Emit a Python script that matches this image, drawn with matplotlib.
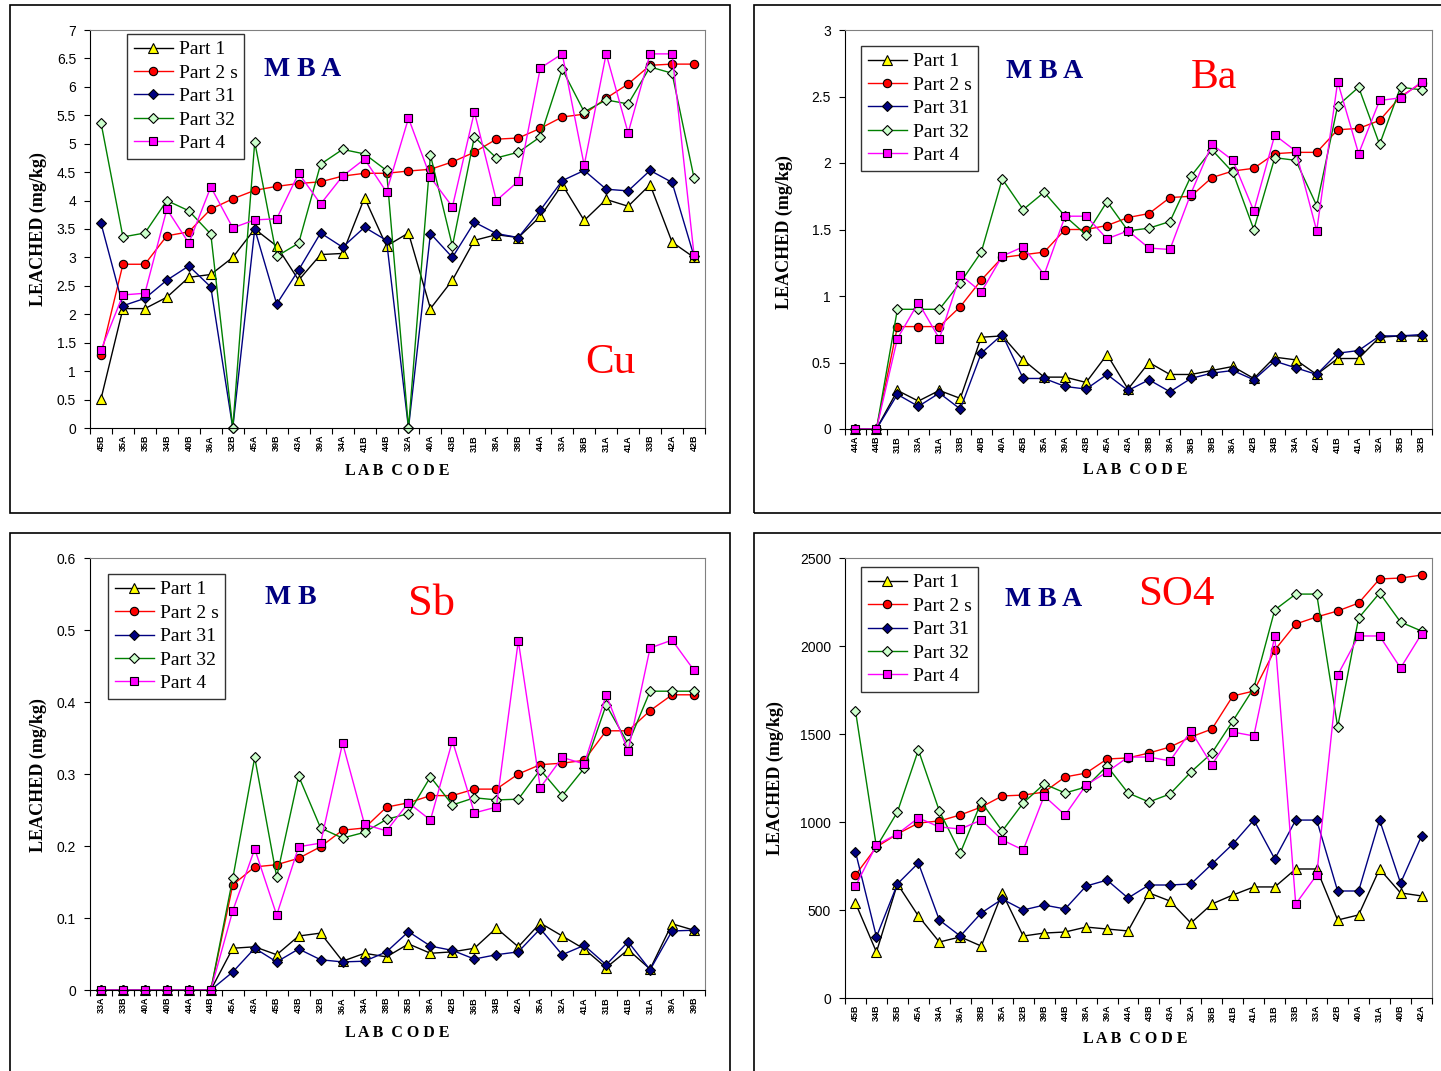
import numpy as np
import matplotlib
matplotlib.use("Agg")
import matplotlib.pyplot as plt
from matplotlib.patches import Rectangle
from matplotlib.ticker import FixedLocator, FuncFormatter

# ── DATA ──
series_names = ['Part 1', 'Part 2 s', 'Part 31', 'Part 32', 'Part 4']

cu_labs = ['45B', '35A', '35B', '34B', '40B', '36A', '32B', '45A', '39B', '43A', '39A', '34A', '41B', '44B',
           '32A', '40A', '43B', '31B', '38A', '38B', '44A', '33A', '36B', '31A', '41A', '33B', '42A', '42B']
cu_p1 = [0.51, 2.1, 2.1, 2.3, 2.65, 2.7, 3.0, 3.5, 3.2, 2.6, 3.05, 3.07, 4.05, 3.2,
         3.43, 2.1, 2.6, 3.3, 3.4, 3.35, 3.72, 4.28, 3.65, 4.02, 3.9, 4.28, 3.27, 3.0]
cu_p2 = [1.28, 2.88, 2.88, 3.38, 3.45, 3.85, 4.03, 4.18, 4.25, 4.3, 4.33, 4.43, 4.48, 4.48,
         4.52, 4.55, 4.68, 4.85, 5.08, 5.1, 5.27, 5.47, 5.52, 5.8, 6.05, 6.38, 6.4, 6.4]
cu_p31 = [3.6, 2.15, 2.28, 2.6, 2.85, 2.48, 0.0, 3.5, 2.18, 2.78, 3.43, 3.18, 3.53, 3.3,
          0.0, 3.42, 3.0, 3.62, 3.42, 3.35, 3.83, 4.35, 4.53, 4.2, 4.17, 4.53, 4.32, 3.02]
cu_p32 = [5.37, 3.36, 3.43, 4.0, 3.82, 3.41, 0.0, 5.03, 3.02, 3.25, 4.64, 4.9, 4.82, 4.53,
          0.0, 4.8, 3.2, 5.12, 4.75, 4.85, 5.12, 6.31, 5.56, 5.77, 5.7, 6.35, 6.24, 4.4]
cu_p4 = [1.37, 2.34, 2.37, 3.85, 3.25, 4.24, 3.52, 3.66, 3.68, 4.48, 3.94, 4.43, 4.73, 4.15,
         5.45, 4.41, 3.89, 5.56, 4.0, 4.34, 6.33, 6.58, 4.62, 6.58, 5.19, 6.58, 6.58, 3.05]

ba_labs = ['44A', '44B', '31B', '33A', '31A', '33B', '40B', '40A', '45B', '35A', '39A', '43B', '45A', '43A',
           '38B', '38A', '36B', '39B', '36A', '42B', '34B', '34A', '42A', '41B', '41A', '32A', '35B', '32B']
ba_p1 = [0, 0, 0.29, 0.21, 0.29, 0.23, 0.69, 0.7, 0.52, 0.39, 0.39, 0.35, 0.56, 0.3,
         0.5, 0.41, 0.41, 0.44, 0.47, 0.38, 0.54, 0.52, 0.41, 0.53, 0.53, 0.69, 0.7, 0.7]
ba_p2 = [0, 0, 0.77, 0.77, 0.77, 0.92, 1.12, 1.29, 1.31, 1.33, 1.5, 1.5, 1.53, 1.59,
         1.62, 1.74, 1.75, 1.89, 1.94, 1.96, 2.07, 2.08, 2.08, 2.25, 2.26, 2.32, 2.5, 2.6]
ba_p31 = [0, 0, 0.26, 0.17, 0.27, 0.15, 0.57, 0.71, 0.38, 0.38, 0.32, 0.3, 0.41, 0.29,
          0.37, 0.28, 0.38, 0.42, 0.44, 0.37, 0.51, 0.46, 0.41, 0.57, 0.59, 0.7, 0.7, 0.71]
ba_p32 = [0, 0, 0.9, 0.9, 0.9, 1.1, 1.33, 1.88, 1.65, 1.78, 1.6, 1.46, 1.71, 1.49,
          1.51, 1.56, 1.9, 2.1, 1.93, 1.5, 2.04, 2.02, 1.68, 2.43, 2.57, 2.14, 2.57, 2.55]
ba_p4 = [0, 0, 0.68, 0.95, 0.68, 1.16, 1.03, 1.3, 1.37, 1.16, 1.6, 1.6, 1.43, 1.49,
         1.36, 1.35, 1.77, 2.14, 2.02, 1.64, 2.21, 2.09, 1.49, 2.61, 2.07, 2.47, 2.49, 2.61]

sb_labs = ['33A', '33B', '40A', '40B', '44A', '44B', '45A', '43A', '45B', '43B', '32B', '36A', '34A', '38B',
           '35B', '38A', '42B', '36B', '34B', '42A', '35A', '32A', '41A', '31B', '41B', '31A', '39A', '39B']
sb_p1 = [0, 0, 0, 0, 0, 0, 0.058, 0.06, 0.049, 0.075, 0.079, 0.04, 0.051, 0.046,
         0.064, 0.051, 0.053, 0.058, 0.086, 0.06, 0.093, 0.075, 0.057, 0.031, 0.056, 0.029, 0.092, 0.083]
sb_p2 = [0, 0, 0, 0, 0, 0, 0.146, 0.171, 0.174, 0.183, 0.199, 0.222, 0.225, 0.254,
         0.26, 0.27, 0.27, 0.279, 0.279, 0.3, 0.313, 0.315, 0.319, 0.36, 0.36, 0.388, 0.41, 0.41]
sb_p31 = [0, 0, 0, 0, 0, 0, 0.025, 0.058, 0.039, 0.057, 0.042, 0.039, 0.04, 0.053,
          0.081, 0.061, 0.055, 0.043, 0.049, 0.053, 0.085, 0.049, 0.062, 0.035, 0.067, 0.028, 0.082, 0.083]
sb_p32 = [0, 0, 0, 0, 0, 0, 0.155, 0.323, 0.157, 0.297, 0.225, 0.211, 0.219, 0.237,
          0.245, 0.296, 0.257, 0.267, 0.264, 0.265, 0.306, 0.27, 0.308, 0.396, 0.342, 0.415, 0.415, 0.415]
sb_p4 = [0, 0, 0, 0, 0, 0, 0.11, 0.196, 0.104, 0.199, 0.204, 0.343, 0.23, 0.221,
         0.26, 0.236, 0.346, 0.246, 0.254, 0.485, 0.281, 0.323, 0.314, 0.41, 0.332, 0.475, 0.486, 0.444]

so4_labs = ['45B', '34B', '35B', '45A', '34A', '36A', '38B', '35A', '32B', '39B', '44B', '38A', '39A', '44A',
            '43B', '43A', '32A', '36B', '41B', '41A', '31B', '33B', '33A', '42B', '40A', '31A', '40B', '42A']
so4_p1 = [540, 261, 648, 466, 318, 347, 295, 597, 352, 369, 375, 403, 392, 381,
          597, 551, 426, 534, 585, 631, 631, 733, 733, 443, 472, 733, 597, 580]
so4_p2 = [699, 858, 932, 994, 1006, 1040, 1085, 1148, 1153, 1170, 1256, 1278, 1358, 1364,
          1392, 1426, 1483, 1528, 1716, 1744, 1977, 2125, 2165, 2199, 2244, 2381, 2386, 2403]
so4_p31 = [830, 347, 648, 767, 443, 352, 483, 562, 500, 528, 506, 636, 670, 568,
           642, 642, 648, 761, 875, 1011, 790, 1011, 1011, 608, 608, 1011, 653, 920]
so4_p32 = [1631, 858, 1057, 1409, 1063, 824, 1114, 949, 1108, 1216, 1165, 1199, 1318, 1165,
           1114, 1159, 1284, 1392, 1574, 1761, 2205, 2295, 2295, 1540, 2159, 2301, 2136, 2085]
so4_p4 = [636, 869, 932, 1023, 972, 960, 1011, 898, 841, 1148, 1040, 1210, 1284, 1369,
          1369, 1347, 1517, 1324, 1511, 1489, 2057, 534, 699, 1835, 2057, 2057, 1875, 2068]

# ── STYLE ──
W, H = 1441, 1071
SERIF = 'Liberation Serif'
SANS = 'Liberation Sans'
styles = [
    dict(color='black', marker='^', mfc='yellow', ms=6.5),
    dict(color='red', marker='o', mfc='red', ms=6),
    dict(color='#000080', marker='D', mfc='#000080', ms=5.2),
    dict(color='#008000', marker='D', mfc='#ccffcc', ms=5.2),
    dict(color='magenta', marker='s', mfc='magenta', ms=6),
]


def fx(x):
    return x / W


def fy(y):
    return 1 - y / H


fig = plt.figure(figsize=(W / 100, H / 100), dpi=100)

# panel frames
for (x0, y0, x1, y1) in [(10, 5, 730, 513), (754, 5, 1446, 513), (10, 533, 730, 1076), (754, 533, 1446, 1076)]:
    fig.patches.append(Rectangle((fx(x0), fy(y1)), fx(x1 - x0), (y1 - y0) / H, transform=fig.transFigure,
                                 fill=False, edgecolor='black', linewidth=1.2))


def panel(box, labs, data, ymax, ystep, yfmt, leg_xy, mba, mba_xy, elem, elem_xy, elem_size,
          ylab_xy, xlab_xy):
    x0, y0, x1, y1 = box
    ax = fig.add_axes([fx(x0), fy(y1), fx(x1 - x0), (y1 - y0) / H])
    x = np.arange(len(labs))
    for name, vals, st in zip(series_names, data, styles):
        ax.plot(x, vals, color=st['color'], lw=1.0, marker=st['marker'], ms=st['ms'],
                mfc=st['mfc'], mec='black', mew=0.8, label=name, clip_on=False)
    ax.set_xlim(-0.5, len(labs) - 0.5)
    ax.set_ylim(0, ymax)
    ax.yaxis.set_major_locator(FixedLocator(np.arange(0, ymax + ystep / 2, ystep)))
    ax.yaxis.set_major_formatter(FuncFormatter(lambda v, p: yfmt % v))
    ax.set_xticks(x)
    ax.set_xticklabels(labs, rotation=90, fontsize=6.5, fontweight='bold', family=SANS)
    ax.set_xticks(np.arange(-0.5, len(labs)), minor=True)
    ax.tick_params(axis='x', which='major', length=0, pad=5)
    ax.tick_params(axis='x', which='minor', length=4, direction='out', width=0.8)
    ax.tick_params(axis='y', length=4, direction='out', width=0.8, labelsize=10, pad=6)
    for t in ax.get_yticklabels():
        t.set_family(SANS)
    for s in ['top', 'right']:
        ax.spines[s].set_color('#808080')
    for s in ['left', 'bottom']:
        ax.spines[s].set_color('black')
    lx, ly = leg_xy
    leg = ax.legend(loc='upper left', bbox_to_anchor=(fx(lx), fy(ly)), bbox_transform=fig.transFigure,
                    prop={'family': SERIF, 'size': 14}, frameon=True, fancybox=False, shadow=False,
                    handlelength=2.0, handletextpad=0.3, labelspacing=0.3, borderpad=0.35,
                    borderaxespad=0)
    leg.get_frame().set_edgecolor('black')
    leg.get_frame().set_linewidth(1.0)
    fig.text(fx(mba_xy[0]), fy(mba_xy[1]), mba, family=SERIF, fontweight='bold', fontsize=20,
             color='#000080', ha='center', va='center')
    fig.text(fx(elem_xy[0]), fy(elem_xy[1]), elem, family=SERIF, fontsize=elem_size,
             color='red', ha='center', va='center')
    fig.text(fx(ylab_xy[0]), fy(ylab_xy[1]), 'LEACHED (mg/kg)', family=SERIF, fontweight='bold',
             fontsize=13, rotation=90, ha='center', va='center')
    fig.text(fx(xlab_xy[0]), fy(xlab_xy[1]), 'L A B  C O D E', family=SERIF, fontweight='bold',
             fontsize=11.5, ha='center', va='center')
    return ax


panel((90, 30, 705, 428), cu_labs, [cu_p1, cu_p2, cu_p31, cu_p32, cu_p4], 7, 0.5, '%g',
      (127, 34), 'M B A', (303, 69), 'Cu', (610, 363), 31, (38, 229), (397, 471))
panel((845, 30, 1432, 429), ba_labs, [ba_p1, ba_p2, ba_p31, ba_p32, ba_p4], 3, 0.5, '%g',
      (861, 46), 'M B A', (1045, 72), 'Ba', (1214, 78), 30, (784, 232), (1135, 470))
panel((90, 558, 705, 990), sb_labs, [sb_p1, sb_p2, sb_p31, sb_p32, sb_p4], 0.6, 0.1, '%g',
      (108, 574), 'M B', (291, 598), 'Sb', (432, 604), 32, (38, 775), (397, 1033))
panel((845, 558, 1432, 998), so4_labs, [so4_p1, so4_p2, so4_p31, so4_p32, so4_p4], 2500, 500, '%d',
      (861, 567), 'M B A', (1044, 600), 'SO4', (1176, 595), 31, (775, 778), (1135, 1039))

fig.savefig('out.png', dpi=100)
